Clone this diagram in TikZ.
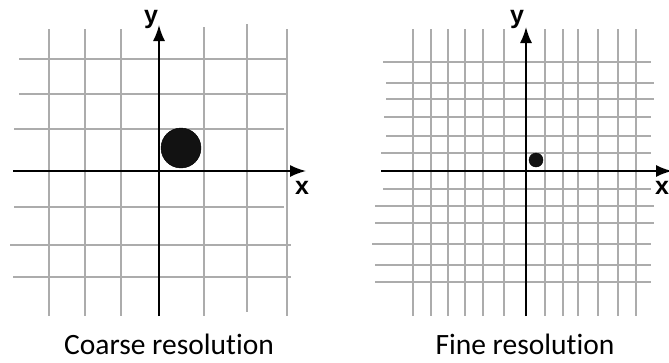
\documentclass[tikz,border=0pt]{standalone}
\usepackage{fontspec}
\setmainfont{Carlito}[Ligatures=NoCommon]
\newfontfamily\labelfont{Liberation Sans}
\usetikzlibrary{arrows.meta, positioning}
\definecolor{gridGray}{RGB}{172,172,172}
\definecolor{spotBlack}{RGB}{18,18,18}

\begin{document}
\begin{tikzpicture}[
    x=1pt, y=-1pt,
    gridline/.style={gridGray, line width=1.8pt},
    axisline/.style={black, line width=1.7pt, -{Latex[length=16pt, width=12pt]}},
    axislabel/.style={font=\fontsize{25}{25}\selectfont\labelfont\bfseries, inner sep=0pt, anchor=north},
    caption/.style={font=\fontsize{29.5}{32}\selectfont, inner sep=0pt, anchor=base},
    spot/.style={circle, fill=spotBlack, draw=black, inner sep=0pt}
]
    \fill[white] (0,0) rectangle (669,362);
    \useasboundingbox (0,0) rectangle (669,362);

    % coarse grid
    \foreach \gx/\ya/\yb in {49/29/316, 85/29/316, 121/29/316, 204/27/316, 247/24/312, 287/29/316}
        \draw[gridline] (\gx,\ya) -- (\gx,\yb);
    \foreach \gy/\xa/\xb in {59/19/286, 94/19/286, 129/14/284, 207/14/284, 245/10/291, 277/13/291}
        \draw[gridline] (\xa,\gy) -- (\xb,\gy);

    % fine grid
    \foreach \gx in {413, 431, 448, 465, 483, 504, 545, 563, 578, 598, 618, 636}
        \draw[gridline] (\gx,29) -- (\gx,316);
    \foreach \gy/\xa/\xb in {62/383/651, 83/386/654, 99/386/654, 117/384/651, 136/386/651, 153/381/651,
                             189/383/651, 206/375/654, 223/375/654, 244/372/651, 265/375/651, 282/375/651}
        \draw[gridline] (\xa,\gy) -- (\xb,\gy);

    % axes
    \coordinate (xStartL) at (13,171);
    \coordinate (xTipL) at (306,171);
    \coordinate (yStartL) at (159,316);
    \coordinate (yTipL) at (159,25);
    \coordinate (xStartR) at (381,171);
    \coordinate (xTipR) at (672,171);
    \coordinate (yStartR) at (526,316);
    \coordinate (yTipR) at (526,27);

    \draw[axisline] (xStartL) -- (xTipL);
    \draw[axisline] (yStartL) -- (yTipL);
    \draw[axisline] (xStartR) -- (xTipR);
    \draw[axisline] (yStartR) -- (yTipR);

    \node[axislabel] (xLabL) at ([xshift=-4pt, yshift=-10pt]xTipL) {x};
    \node[axislabel] (yLabL) at ([xshift=-8pt, yshift=15pt]yTipL) {y};
    \node[axislabel] (xLabR) at ([xshift=-10pt, yshift=-10pt]xTipR) {x};
    \node[axislabel] (yLabR) at ([xshift=-9pt, yshift=17pt]yTipR) {y};

    % spots
    \node[spot, minimum size=40pt] (bigSpot) at (181,148) {};
    \node[spot, minimum size=14pt] (smallSpot) at (536,160) {};

    % captions
    \node[caption] (coarseCap) at (169,354) {Coarse resolution};
    \node[caption] (fineCap) at (525,354) {Fine resolution};
\end{tikzpicture}
\end{document}
